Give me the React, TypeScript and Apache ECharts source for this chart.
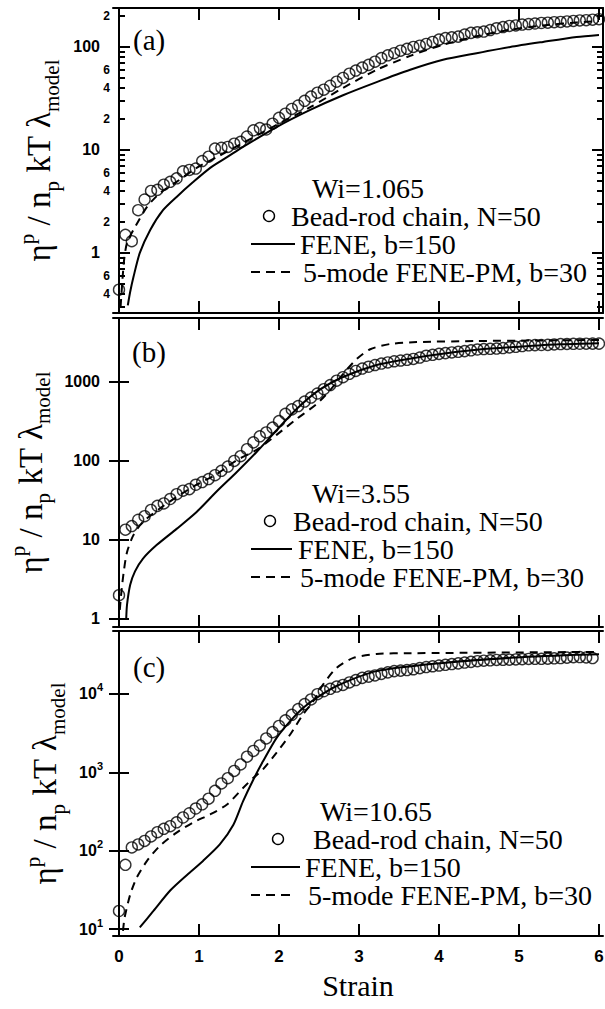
import React, { useEffect, useRef } from 'react';
import * as echarts from 'echarts';

// ---------- data ----------
const strainPts = [0, 0.08, 0.16, 0.24, 0.32, 0.4, 0.48, 0.56, 0.64, 0.72, 0.8, 0.88, 0.96, 1.04, 1.12, 1.2, 1.28, 1.36, 1.44, 1.52, 1.6, 1.68, 1.76, 1.84, 1.92, 2, 2.08, 2.16, 2.24, 2.32, 2.4, 2.48, 2.56, 2.64, 2.72, 2.8, 2.88, 2.96, 3.04, 3.12, 3.2, 3.28, 3.36, 3.44, 3.52, 3.6, 3.68, 3.76, 3.84, 3.92, 4, 4.08, 4.16, 4.24, 4.32, 4.4, 4.48, 4.56, 4.64, 4.72, 4.8, 4.88, 4.96, 5.04, 5.12, 5.2, 5.28, 5.36, 5.44, 5.52, 5.6, 5.68, 5.76, 5.84, 5.92, 6];

const beadA = [0.44, 1.5, 1.3, 2.6, 3.3, 4.0, 4.1, 4.6, 4.9, 5.3, 6.2, 6.4, 6.6, 7.8, 8.6, 10.3, 10.5, 10.7, 11.5, 12, 13.5, 15.5, 16.3, 15.8, 18, 20.5, 22.5, 25, 27, 30, 33, 36, 38.5, 42, 46, 50, 55, 59, 63, 67, 72, 78, 83, 87, 92, 96, 100, 103, 107, 112, 118, 122, 124, 126, 132, 137, 139, 141, 146, 152, 156, 160, 162, 165, 167, 169, 171, 172, 174, 175, 177, 179, 181, 182, 184, 186];
const beadB = [2.0, 13.5, 15, 18, 20, 24, 27, 29, 33, 38, 42, 44, 50, 54, 59, 66, 75, 85, 100, 115, 141, 172, 205, 230, 265, 320, 395, 450, 495, 565, 635, 715, 810, 915, 1040, 1150, 1270, 1380, 1480, 1560, 1640, 1710, 1770, 1830, 1870, 1910, 1960, 2040, 2150, 2210, 2270, 2320, 2370, 2410, 2460, 2520, 2580, 2610, 2630, 2650, 2690, 2740, 2790, 2850, 2910, 2930, 2940, 2950, 2990, 3020, 3035, 3045, 3050, 3055, 3060, 3060];
const beadC = [17, 66, 110, 120, 133, 152, 172, 190, 205, 230, 265, 300, 345, 390, 460, 580, 720, 840, 1040, 1260, 1580, 1870, 2200, 2700, 3250, 3900, 4600, 5400, 6400, 7400, 8500, 9900, 10800, 11600, 12400, 13000, 14000, 15000, 16000, 16600, 17200, 18000, 18800, 19500, 19800, 20100, 20600, 21300, 22000, 22500, 23000, 23500, 24000, 24500, 25100, 25600, 26100, 26500, 26800, 27100, 27200, 27300, 27500, 27700, 27900, 28000, 28000, 28100, 28400, 28600, 29000, 29400, 29500, 29200, 28600];

const feneAX = [0.11, 0.14, 0.18, 0.26, 0.39, 0.55, 0.72, 0.93, 1.14, 1.35, 1.55, 1.97, 2.39, 2.8, 3.22, 3.64, 4.05, 4.47, 4.89, 5.3, 5.72, 6.0];
const feneAY = [0.31, 0.42, 0.58, 1.0, 1.67, 2.6, 3.5, 4.9, 6.7, 8.5, 10.7, 16.7, 24.5, 34, 45.6, 60, 75, 87, 100, 112, 125, 131];
const pmAX = [0.02, 0.06, 0.1, 0.2, 0.35, 0.51, 0.72, 0.97, 1.22, 1.55, 1.97, 2.39, 2.8, 3.22, 3.64, 4.05, 4.47, 4.89, 5.3, 5.72, 6.0];
const pmAY = [0.3, 0.8, 1.25, 1.78, 2.8, 3.8, 4.9, 6.7, 8.5, 11.7, 17.5, 26, 40, 60, 82, 105, 127, 147, 162, 173, 179];

const feneBX = [0.09, 0.1, 0.14, 0.2, 0.3, 0.47, 0.72, 0.97, 1.22, 1.47, 1.72, 1.97, 2.22, 2.47, 2.72, 2.95, 3.2, 3.5, 4.0, 4.5, 5.0, 5.5, 6.0];
const feneBY = [1.0, 1.5, 2.7, 4, 5.8, 8.6, 13.8, 22.6, 41, 72, 130, 245, 455, 750, 1060, 1330, 1620, 1870, 2250, 2580, 2800, 3000, 3100];
const pmBX = [0.01, 0.03, 0.06, 0.1, 0.18, 0.3, 0.51, 0.72, 0.97, 1.22, 1.47, 1.72, 1.97, 2.22, 2.47, 2.64, 2.8, 2.97, 3.14, 3.39, 3.72, 4.47, 5.2, 6.0];
const pmBY = [1.3, 2.2, 4, 7, 11.5, 17, 25, 35, 50, 68, 102, 138, 214, 340, 525, 790, 1260, 1950, 2600, 3030, 3200, 3300, 3350, 3400];

const feneCX = [0.26, 0.43, 0.64, 0.85, 1.05, 1.26, 1.43, 1.55, 1.68, 1.8, 1.97, 2.14, 2.3, 2.47, 2.72, 3.22, 4.05, 4.89, 5.72, 6.0];
const feneCY = [10.5, 17, 31, 49, 74, 120, 214, 425, 810, 1380, 2750, 4500, 6620, 8900, 12600, 19500, 24800, 28800, 31500, 32000];
const pmCX = [0.05, 0.07, 0.14, 0.22, 0.35, 0.51, 0.72, 0.93, 1.14, 1.35, 1.55, 1.68, 1.8, 1.97, 2.14, 2.3, 2.43, 2.55, 2.72, 2.93, 3.22, 3.64, 5.97];
const pmCY = [9.5, 14, 27.5, 45, 74, 115, 170, 230, 290, 388, 630, 850, 1090, 1780, 3030, 5450, 8100, 13100, 21500, 28800, 32300, 33000, 34300];

const xTickVals = [0, 1, 2, 3, 4, 5, 6];
const aLabelVals = [0.4, 0.6, 1, 2, 4, 6, 10, 20, 40, 60, 100, 200];
const aMajor = [1, 10, 100];
const aMinor = [0.3, 0.4, 0.5, 0.6, 0.7, 0.8, 0.9, 2, 3, 4, 5, 6, 7, 8, 9, 20, 30, 40, 50, 60, 70, 80, 90, 200];
const bMajor = [1, 10, 100, 1000];
const cMajor = [10, 100, 1000, 10000];
const panelLabels = ['(a)', '(b)', '(c)'];
const wiLabels = ['Wi=1.065', 'Wi=3.55', 'Wi=10.65'];
const legendTexts = ['Bead-rod chain, N=50', 'FENE, b=150', '5-mode FENE-PM, b=30'];

// ---------- layout ----------
const SERIF = '"Liberation Serif", "Times New Roman", serif';
const SANS = '"Liberation Sans", Arial, sans-serif';
const grids = [
  { left: 113, top: 8, width: 490, height: 305 },
  { left: 113, top: 318, width: 490, height: 309 },
  { left: 113, top: 631, width: 490, height: 305 },
];
const yRanges = [
  [0.261, 239],
  [0.79, 6460],
  [8.15, 63400],
];
const xMin = -0.075;
const xMax = 6.05;
const legendLayout = [
  { wi: [312, 188], circ: [269, 216], bead: [291, 216], line: [251, 295, 244], fene: [300, 244], dash: [251, 293, 272], pm: [303, 272], lab: [133, 40] },
  { wi: [312, 493], circ: [270, 521], bead: [293, 521], line: [251, 292, 549], fene: [298, 549], dash: [251, 291, 577], pm: [300, 577], lab: [132, 352] },
  { wi: [320, 811], circ: [278, 839], bead: [313, 839], line: [251, 300, 867], fene: [305, 867], dash: [251, 295, 895], pm: [308, 895], lab: [133, 667] },
];

function zip(xs: number[], ys: number[]) {
  const n = Math.min(xs.length, ys.length);
  const out: number[][] = [];
  for (let i = 0; i < n; i++) out.push([xs[i], ys[i]]);
  return out;
}

const lineCol = '#000';
const axisLine = { show: true, lineStyle: { color: lineCol, width: 2 } };

const titleName = '{e|η}{sup|p}{t| / n}{sub|p}{t| kT }{e|λ}{sub|model}';
const titleRich = {
  e: { fontFamily: SERIF, fontSize: 33, lineHeight: 46, color: '#000' },
  t: { fontFamily: SERIF, fontSize: 33, lineHeight: 46, color: '#000' },
  sup: { fontFamily: SERIF, fontSize: 21, lineHeight: 22, verticalAlign: 'top', color: '#000' },
  sub: { fontFamily: SERIF, fontSize: 21, lineHeight: 22, verticalAlign: 'bottom', color: '#000' },
};

function buildOption() {
  const xAxis: any[] = [];
  const yAxis: any[] = [];
  const series: any[] = [];
  const graphic: any[] = [];

  grids.forEach((g, i) => {
    const bottomX: any = {
      type: 'value', gridIndex: i, position: 'bottom', min: xMin, max: xMax,
      axisLine, splitLine: { show: false },
      axisTick: { show: true, inside: true, length: 12, customValues: xTickVals, lineStyle: { color: lineCol, width: 2 } },
      axisLabel: {
        show: i === 2, customValues: xTickVals, margin: 12,
        fontFamily: SANS, fontWeight: 'bold', fontSize: 17, color: '#000',
      },
    };
    if (i === 2) {
      bottomX.name = 'Strain';
      bottomX.nameLocation = 'middle';
      bottomX.nameGap = 34;
      bottomX.nameTextStyle = { fontFamily: SERIF, fontSize: 30, color: '#000', verticalAlign: 'top' };
    }
    xAxis.push(bottomX);
    xAxis.push({
      type: 'value', gridIndex: i, position: 'top', min: xMin, max: xMax,
      axisLine, splitLine: { show: false },
      axisTick: { show: true, inside: true, length: 12, customValues: xTickVals, lineStyle: { color: lineCol, width: 2 } },
      axisLabel: { show: false },
    });
  });

  const yBase = (gi: number) => ({
    type: 'log', gridIndex: gi, min: yRanges[gi][0], max: yRanges[gi][1],
    splitLine: { show: false }, minorTick: { show: false },
  });

  // Panel a
  const aFirst = yAxis.length;
  yAxis.push({
    ...yBase(0), position: 'left', axisLine,
    axisTick: { show: true, inside: true, length: 11, customValues: aMajor, lineStyle: { color: lineCol, width: 2 } },
    axisLabel: {
      show: true, customValues: aLabelVals, margin: 3,
      formatter: (v: number) => {
        const e = Math.floor(Math.log10(v) + 1e-9);
        const d = Math.round(v / Math.pow(10, e));
        return d === 1 ? `{M|${Math.round(v)}}` : `{m|${d}}`;
      },
      rich: {
        M: { fontFamily: SANS, fontWeight: 'bold', fontSize: 16, color: '#000', padding: [0, 10, 0, 0] },
        m: { fontFamily: SANS, fontWeight: 'bold', fontSize: 12, color: '#000' },
      },
    },
    name: titleName, nameLocation: 'middle', nameRotate: 90, nameGap: 40,
    nameTextStyle: { rich: titleRich },
  });
  yAxis.push({
    ...yBase(0), position: 'left', axisLine: { show: false },
    axisTick: { show: true, inside: true, length: 6, customValues: aMinor, lineStyle: { color: lineCol, width: 2 } },
    axisLabel: { show: false },
  });
  yAxis.push({
    ...yBase(0), position: 'right', axisLine,
    axisTick: { show: true, inside: true, length: 11, customValues: aMajor, lineStyle: { color: lineCol, width: 2 } },
    axisLabel: { show: false },
  });
  yAxis.push({
    ...yBase(0), position: 'right', axisLine: { show: false },
    axisTick: { show: true, inside: true, length: 6, customValues: aMinor, lineStyle: { color: lineCol, width: 2 } },
    axisLabel: { show: false },
  });

  // Panel b
  const bFirst = yAxis.length;
  yAxis.push({
    ...yBase(1), position: 'left', axisLine,
    axisTick: { show: true, inside: true, length: 10, customValues: bMajor, lineStyle: { color: lineCol, width: 2 } },
    axisLabel: {
      show: true, customValues: bMajor, margin: 13,
      fontFamily: SANS, fontWeight: 'bold', fontSize: 16, color: '#000',
      formatter: (v: number) => String(Math.round(v)),
    },
    name: titleName, nameLocation: 'middle', nameRotate: 90, nameGap: 40,
    nameTextStyle: { rich: titleRich },
  });
  yAxis.push({
    ...yBase(1), position: 'right', axisLine,
    axisTick: { show: true, inside: true, length: 10, customValues: bMajor, lineStyle: { color: lineCol, width: 2 } },
    axisLabel: { show: false },
  });

  // Panel c
  const cFirst = yAxis.length;
  yAxis.push({
    ...yBase(2), position: 'left', axisLine,
    axisTick: { show: true, inside: true, length: 10, customValues: cMajor, lineStyle: { color: lineCol, width: 2 } },
    axisLabel: {
      show: true, customValues: cMajor, margin: 10,
      formatter: (v: number) => `{b|10}{s|${Math.round(Math.log10(v))}}`,
      rich: {
        b: { fontFamily: SANS, fontWeight: 'bold', fontSize: 16, lineHeight: 24, color: '#000' },
        s: { fontFamily: SANS, fontWeight: 'bold', fontSize: 11, lineHeight: 12, verticalAlign: 'top', color: '#000' },
      },
    },
    name: titleName, nameLocation: 'middle', nameRotate: 90, nameGap: 40,
    nameTextStyle: { rich: titleRich },
  });
  yAxis.push({
    ...yBase(2), position: 'right', axisLine,
    axisTick: { show: true, inside: true, length: 10, customValues: cMajor, lineStyle: { color: lineCol, width: 2 } },
    axisLabel: { show: false },
  });

  const panels = [
    { yi: aFirst, bead: beadA, fene: zip(feneAX, feneAY), pm: zip(pmAX, pmAY) },
    { yi: bFirst, bead: beadB, fene: zip(feneBX, feneBY), pm: zip(pmBX, pmBY) },
    { yi: cFirst, bead: beadC, fene: zip(feneCX, feneCY), pm: zip(pmCX, pmCY) },
  ];

  const legendFont = `28px ${SERIF}`;

  panels.forEach((p, i) => {
    series.push({
      type: 'line', name: legendTexts[1], xAxisIndex: 2 * i, yAxisIndex: p.yi,
      data: p.fene, showSymbol: false, smooth: 0.25,
      lineStyle: { color: '#000', width: 2 }, z: 2,
    });
    series.push({
      type: 'line', name: legendTexts[2], xAxisIndex: 2 * i, yAxisIndex: p.yi,
      data: p.pm, showSymbol: false, smooth: 0.25,
      lineStyle: { color: '#000', width: 2, type: [8, 6] }, z: 2,
    });
    series.push({
      type: 'scatter', name: legendTexts[0], xAxisIndex: 2 * i, yAxisIndex: p.yi,
      data: zip(strainPts, p.bead), symbol: 'circle', symbolSize: 11,
      itemStyle: { color: 'rgba(0,0,0,0)', borderColor: '#000', borderWidth: 1.4 }, z: 3,
    });

    const L = legendLayout[i];
    const tStyle = { font: legendFont, fill: '#000', verticalAlign: 'middle', align: 'left' };
    graphic.push({ type: 'text', x: L.lab[0], y: L.lab[1], style: { ...tStyle, font: `29px ${SERIF}`, text: panelLabels[i] } });
    graphic.push({ type: 'text', x: L.wi[0], y: L.wi[1], style: { ...tStyle, text: wiLabels[i] } });
    graphic.push({ type: 'circle', shape: { cx: L.circ[0], cy: L.circ[1], r: 5.5 }, style: { fill: 'none', stroke: '#000', lineWidth: 1.4 } });
    graphic.push({ type: 'text', x: L.bead[0], y: L.bead[1], style: { ...tStyle, text: legendTexts[0] } });
    graphic.push({ type: 'line', shape: { x1: L.line[0], y1: L.line[2], x2: L.line[1], y2: L.line[2] }, style: { stroke: '#000', lineWidth: 2 } });
    graphic.push({ type: 'text', x: L.fene[0], y: L.fene[1], style: { ...tStyle, text: legendTexts[1] } });
    graphic.push({ type: 'line', shape: { x1: L.dash[0], y1: L.dash[2], x2: L.dash[1], y2: L.dash[2] }, style: { stroke: '#000', lineWidth: 2, lineDash: [9, 6] } });
    graphic.push({ type: 'text', x: L.pm[0], y: L.pm[1], style: { ...tStyle, text: legendTexts[2] } });
  });

  return {
    animation: false,
    backgroundColor: '#fff',
    grid: grids.map((g) => ({ ...g, outerBoundsMode: 'none', containLabel: false })),
    xAxis,
    yAxis,
    series,
    graphic,
  };
}

export default function App() {
  const ref = useRef<HTMLDivElement>(null);
  useEffect(() => {
    if (!ref.current) return;
    const chart = echarts.init(ref.current, null, { renderer: 'svg' });
    chart.setOption(buildOption() as any);
    return () => chart.dispose();
  }, []);
  return (
    <div
      ref={ref}
      style={{ position: 'absolute', left: 0, top: 0, width: 605, height: 1009, background: '#fff' }}
    />
  );
}
